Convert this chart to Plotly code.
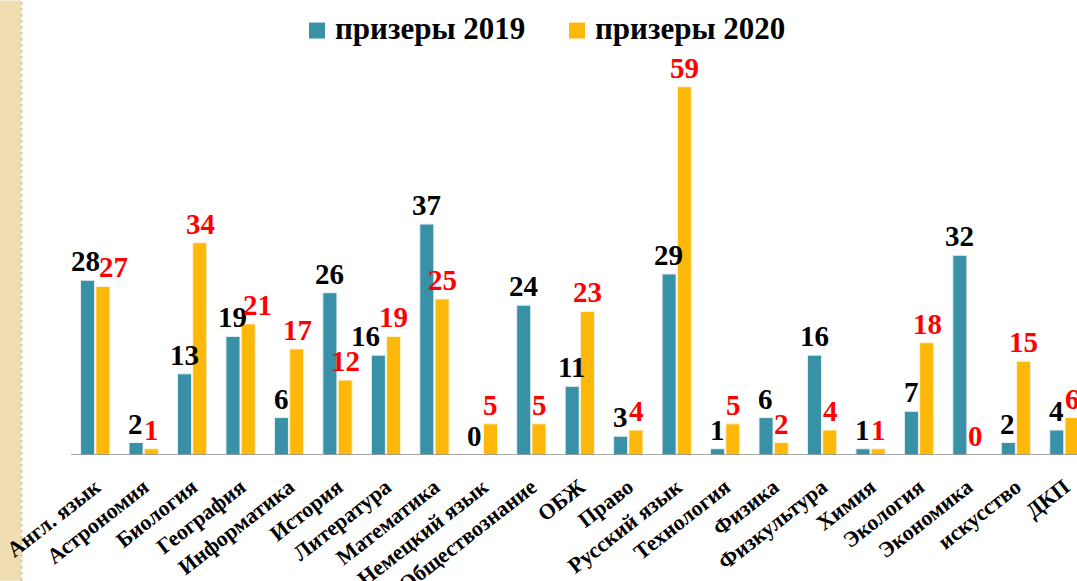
import plotly.graph_objects as go

categories = ["Англ. язык", "Астрономия", "Биология", "География", "Информатика",
              "История", "Литература", "Математика", "Немецкий язык", "Обществознание",
              "ОБЖ", "Право", "Русский язык", "Технология", "Физика", "Физкультура",
              "Химия", "Экология", "Экономика", "искусство", "ДКП"]
prizers_2019 = [28, 2, 13, 19, 6, 26, 16, 37, 0, 24, 11, 3, 29, 1, 6, 16, 1, 7, 32, 2, 4]
prizers_2020 = [27, 1, 34, 21, 17, 12, 19, 25, 5, 5, 23, 4, 59, 5, 2, 4, 1, 18, 0, 15, 6]
series_names = ["призеры 2019", "призеры 2020"]

FONT = "Liberation Serif, Times New Roman, serif"
TEAL = "#3891A7"
GOLD = "#FEB80A"
W, H = 1077, 581
ML, MR, MT, MB = 71, 0, 67.5, 126
PW, PH = W - ML - MR, H - MT - MB


def px_x(px):
    return (px - ML) / PW


def px_y(py):
    return (H - MB - py) / PH


fig = go.Figure()
fig.add_trace(go.Bar(
    x=categories, y=prizers_2019, name=series_names[0],
    marker=dict(color=TEAL, line=dict(color="#E8F0F2", width=1)),
))
fig.add_trace(go.Bar(
    x=categories, y=prizers_2020, name=series_names[1],
    marker=dict(color=GOLD, line=dict(color="#FFF3D6", width=1)),
))

# data labels (small nudges where the original moved overlapping labels)
extra_2019 = {0: -2, 6: -12}
extra_2020 = {0: 10, 3: 9}
annotations = []
for i, (cat, v) in enumerate(zip(categories, prizers_2019)):
    annotations.append(dict(x=cat, y=v, xref="x", yref="y", text=str(v), showarrow=False,
                            xanchor="center", yanchor="bottom", yshift=1,
                            xshift=-8 + extra_2019.get(i, 0),
                            font=dict(family=FONT, size=29, color="black", weight="bold")))
for i, (cat, v) in enumerate(zip(categories, prizers_2020)):
    annotations.append(dict(x=cat, y=v, xref="x", yref="y", text=str(v), showarrow=False,
                            xanchor="center", yanchor="bottom", yshift=1,
                            xshift=8 + extra_2020.get(i, 0),
                            font=dict(family=FONT, size=29, color="#FF0000", weight="bold")))

# legend drawn manually
legend_items = [(series_names[0], TEAL, 309), (series_names[1], GOLD, 569)]
shapes = [
    dict(type="line", xref="paper", yref="y", x0=0, x1=1, y0=0, y1=0,
         line=dict(color="#8C8C8C", width=1.5), layer="above"),
    dict(type="rect", xref="paper", yref="paper",
         x0=px_x(0), x1=px_x(21), y0=px_y(H), y1=px_y(0),
         fillcolor="#F0DDB2", line=dict(width=0), layer="below"),
    dict(type="line", xref="paper", yref="paper",
         x0=px_x(21.5), x1=px_x(21.5), y0=px_y(H), y1=px_y(0),
         line=dict(color="#D9C79F", width=2, dash="dot"), layer="below"),
]
for name, col, sx in legend_items:
    shapes.append(dict(type="rect", xref="paper", yref="paper",
                       x0=px_x(sx), x1=px_x(sx + 16), y0=px_y(38), y1=px_y(22),
                       fillcolor=col, line=dict(width=0)))
    annotations.append(dict(x=px_x(sx + 24), y=px_y(28), xref="paper", yref="paper",
                            text=name, showarrow=False, xanchor="left", yanchor="middle",
                            font=dict(family=FONT, size=31, color="black", weight="bold")))

fig.update_layout(
    width=W, height=H,
    margin=dict(l=ML, r=MR, t=MT, b=MB, autoexpand=False),
    paper_bgcolor="white", plot_bgcolor="white",
    barmode="group", bargap=0.37, bargroupgap=0.08,
    font=dict(family=FONT, color="black"),
    showlegend=False,
    xaxis=dict(range=[-0.5, 20.26], tickangle=-38, showgrid=False, zeroline=False,
               showline=False, ticks="", ticklabelstandoff=14,
               tickfont=dict(family=FONT, size=22, color="black", weight="bold")),
    yaxis=dict(range=[0, 62], visible=False, showgrid=False, zeroline=False),
    shapes=shapes,
    annotations=annotations,
)

fig.write_html("out.html", config={"displayModeBar": False},
               post_script="document.body.style.margin='0px';document.body.style.overflow='hidden';")
